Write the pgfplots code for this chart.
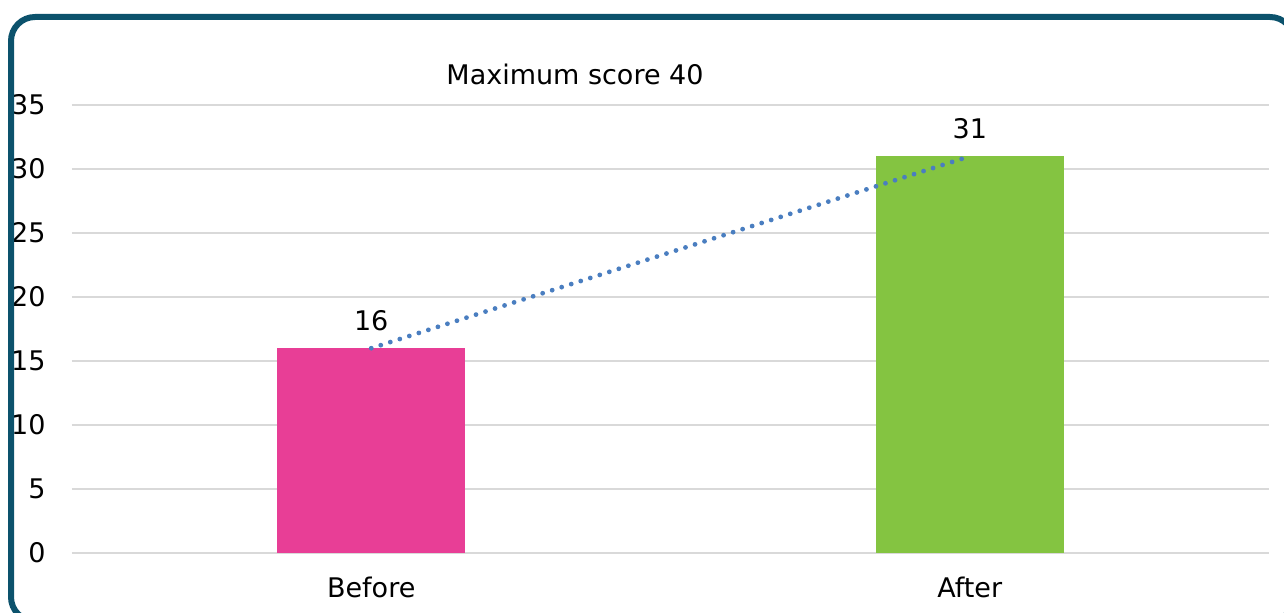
\documentclass[border=0pt]{standalone}
\usepackage{fontspec}
\setmainfont{DejaVu Sans}
\usepackage{pgfplots}
\pgfplotsset{compat=1.18}

\definecolor{framecol}{RGB}{12,82,108}
\definecolor{gridcol}{RGB}{217,217,217}
\definecolor{beforecol}{RGB}{232,62,150}
\definecolor{aftercol}{RGB}{132,196,65}
\definecolor{trendcol}{RGB}{74,126,192}

\begin{document}
\begin{tikzpicture}
  \path[use as bounding box, clip] (0,0) rectangle (642pt,306pt);
  \begin{axis}[
    at={(36pt,29.5pt)}, anchor=south west,
    scale only axis, width=598.5pt, height=224pt,
    xmin=-0.5, xmax=1.5, ymin=0, ymax=35,
    xtick={0,1}, xticklabels={Before,After},
    ytick={0,5,...,35},
    ymajorgrids, grid style={gridcol, line width=0.75pt},
    axis line style={draw=none},
    major tick length=0pt,
    tick label style={font=\fontsize{13.5}{16}\selectfont, text=black},
    /pgf/number format/assume math mode=true,
    yticklabel style={anchor=east, xshift=-9.7pt},
    xticklabel style={anchor=north, yshift=-8.6pt},
    clip=false,
  ]
    \addplot[ybar, bar width=0.314, fill=beforecol, draw=none,
      nodes near coords,
      every node near coord/.style={font=\fontsize{13.5}{16}\selectfont, text=black, anchor=south, yshift=5pt}]
      coordinates {(0,16)};
    \addplot[ybar, bar width=0.314, fill=aftercol, draw=none,
      nodes near coords,
      every node near coord/.style={font=\fontsize{13.5}{16}\selectfont, text=black, anchor=south, yshift=5pt}]
      coordinates {(1,31)};
    % trend between the two scores
    \addplot[trendcol, line width=2.4pt, line cap=round, dash pattern=on 0pt off 5pt]
      coordinates {(0,16) (0.987,30.8)};
  \end{axis}
  \node[anchor=base, font=\fontsize{13.5}{16}\selectfont, inner sep=0pt] at (287.5pt,264pt) {Maximum score 40};
  \draw[framecol, line width=3pt, rounded corners=12pt] (5.5pt,-4.5pt) rectangle (647pt,297.5pt);
\end{tikzpicture}
\end{document}
